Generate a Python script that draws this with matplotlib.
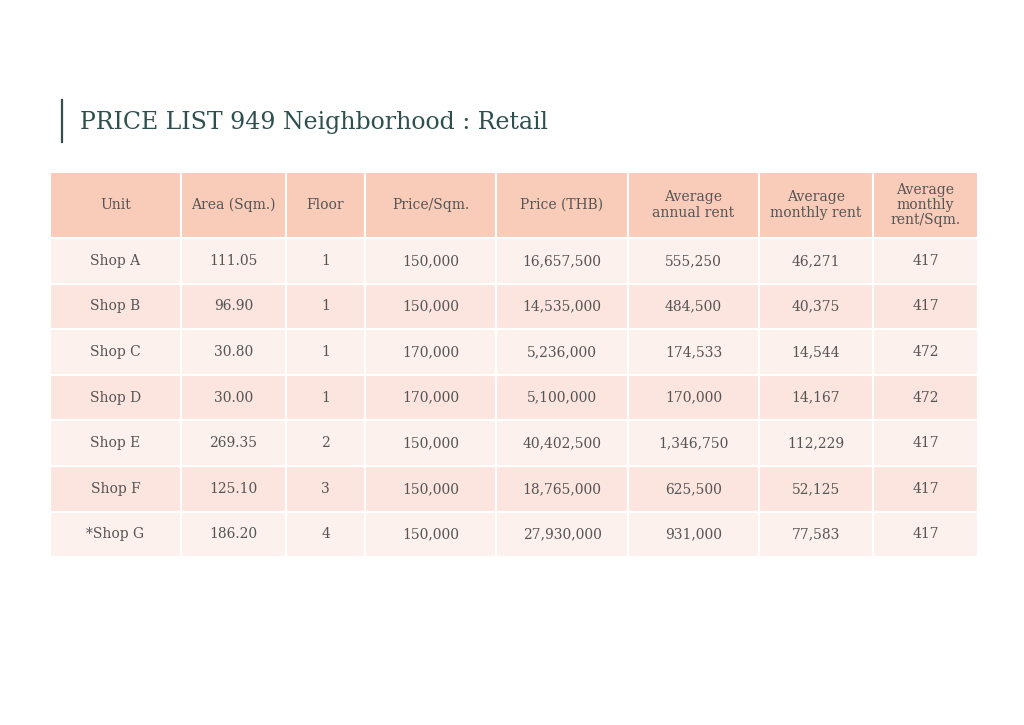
import matplotlib
matplotlib.use("Agg")
import matplotlib.pyplot as plt
from matplotlib.patches import Rectangle

title = "PRICE LIST 949 Neighborhood : Retail"
headers = ["Unit", "Area (Sqm.)", "Floor", "Price/Sqm.", "Price (THB)",
           "Average\nannual rent", "Average\nmonthly rent", "Average\nmonthly\nrent/Sqm."]
units = ["Shop A", "Shop B", "Shop C", "Shop D", "Shop E", "Shop F", "*Shop G"]
area = ["111.05", "96.90", "30.80", "30.00", "269.35", "125.10", "186.20"]
floor = ["1", "1", "1", "1", "2", "3", "4"]
price_sqm = ["150,000", "150,000", "170,000", "170,000", "150,000", "150,000", "150,000"]
price = ["16,657,500", "14,535,000", "5,236,000", "5,100,000", "40,402,500", "18,765,000", "27,930,000"]
annual = ["555,250", "484,500", "174,533", "170,000", "1,346,750", "625,500", "931,000"]
monthly = ["46,271", "40,375", "14,544", "14,167", "112,229", "52,125", "77,583"]
per_sqm = ["417", "417", "472", "472", "417", "417", "417"]
columns = [units, area, floor, price_sqm, price, annual, monthly, per_sqm]

fig = plt.figure(figsize=(10.24, 7.25), dpi=100)
ax = fig.add_axes([0, 0, 1, 1])
ax.set_xlim(0, 1024); ax.set_ylim(725, 0); ax.axis("off")

serif = "DejaVu Serif"
ax.plot([62, 62], [100, 142], color="#2f4f4f", lw=1.6)
ax.text(80, 122, title, fontsize=17, family=serif, color="#2f4f4f", va="center")

xs = [50, 181, 286, 365, 496, 628, 759, 873, 978]
hy0, hy1 = 172, 238
rh = 45.6
for j, h in enumerate(headers):
    ax.add_patch(Rectangle((xs[j], hy0), xs[j+1]-xs[j], hy1-hy0, fc="#f9cbb9", ec="white", lw=1.5))
    ax.text((xs[j]+xs[j+1])/2, (hy0+hy1)/2, h, ha="center", va="center", fontsize=10,
            family=serif, color="#555555", linespacing=1.1)
for i in range(len(units)):
    y = hy1 + i*rh
    fc = "#fdf1ed" if i % 2 == 0 else "#fce5de"
    for j, col in enumerate(columns):
        ax.add_patch(Rectangle((xs[j], y), xs[j+1]-xs[j], rh, fc=fc, ec="white", lw=1.5))
        ax.text((xs[j]+xs[j+1])/2, y+rh/2, col[i], ha="center", va="center", fontsize=10,
                family=serif, color="#555555")

fig.savefig("out.png", dpi=100, facecolor="white")
